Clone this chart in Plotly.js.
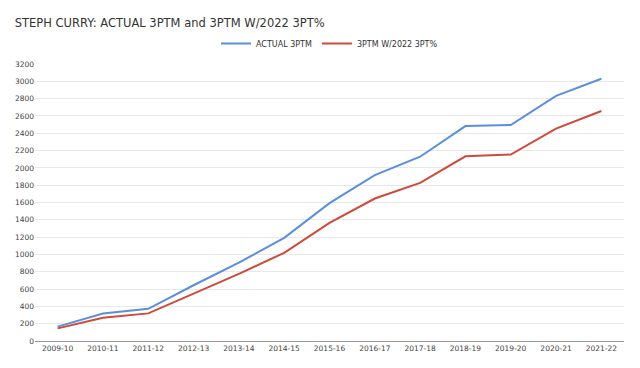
<!DOCTYPE html>
<html>
<head>
<meta charset="utf-8">
<script src="https://cdn.plot.ly/plotly-3.0.1.min.js"></script>
<style>html,body{margin:0;padding:0;background:#fff;}#chart{width:640px;height:368px;}</style>
</head>
<body>
<div id="chart"></div>
<script>
const seasons = ["2009-10","2010-11","2011-12","2012-13","2013-14","2014-15","2015-16","2016-17","2017-18","2018-19","2019-20","2020-21","2021-22"];
const actual3PTM = [166,317,372,644,905,1191,1593,1917,2129,2483,2495,2832,3030];
const with2022Pct = [146,269,319,550,775,1019,1365,1646,1827,2134,2154,2454,2657];
const yTicks = [0,200,400,600,800,1000,1200,1400,1600,1800,2000,2200,2400,2600,2800,3000,3200];

const font = "DejaVu Sans, Verdana, sans-serif";
const traces = [
  {x: seasons, y: actual3PTM, name: "ACTUAL 3PTM", type: "scatter", mode: "lines",
   line: {color: "#5b8fdc", width: 2}},
  {x: seasons, y: with2022Pct, name: "3PTM W/2022 3PT%", type: "scatter", mode: "lines",
   line: {color: "#cc4b3a", width: 2}}
];
const layout = {
  width: 640, height: 368,
  margin: {l: 35, r: 16, t: 64, b: 27},
  paper_bgcolor: "#fff", plot_bgcolor: "#fff",
  font: {family: font, color: "#333"},
  title: {text: "STEPH CURRY: ACTUAL 3PTM and 3PTM W/2022 3PT%", x: 0.023, xanchor: "left", y: 0.937, yanchor: "middle",
          font: {family: font, size: 11.5, color: "#333"}},
  showlegend: true,
  legend: {orientation: "h", x: 0.5, xanchor: "center", y: 1.074, yanchor: "middle",
           font: {family: font, size: 8, color: "#333"}, itemwidth: 30, tracegroupgap: 0},
  xaxis: {type: "category", range: [-0.5, 12.5], showgrid: false, zeroline: false,
          showline: true, linecolor: "#999", linewidth: 1, ticks: "", tickfont: {size: 7.5, color: "#444"}},
  yaxis: {range: [0, 3200], tickvals: yTicks, ticktext: yTicks.map(String), showgrid: true, gridcolor: "#e8e8e8",
          zeroline: false, showline: false, ticks: "", tickfont: {size: 7.5, color: "#444"}}
};
Plotly.newPlot("chart", traces, layout, {staticPlot: true, displayModeBar: false});
</script>
</body>
</html>
